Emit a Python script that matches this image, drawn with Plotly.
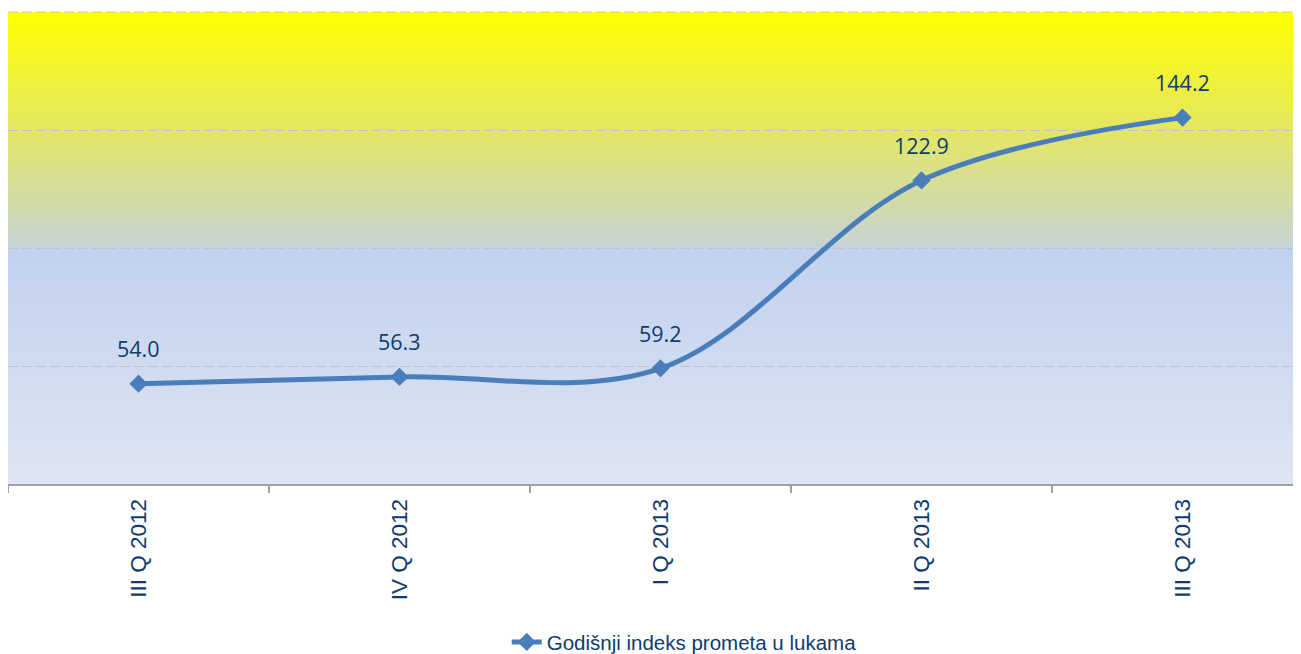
import plotly.graph_objects as go

categories = ["III Q 2012", "IV Q 2012", "I Q 2013", "II Q 2013", "III Q 2013"]
values = [54.0, 56.3, 59.2, 122.9, 144.2]
series_name = "Godišnji indeks prometa u lukama"

LINE = "#4A7EBB"
NAVY = "#0F3B6E"

def hex2rgb(h):
    h = h.lstrip("#")
    return tuple(int(h[i:i + 2], 16) for i in (0, 2, 4))

stops = [
    (0.0, "#DEE5F3"),
    (0.5, "#C1D1EE"),
    (0.503, "#C6D3D4"),
    (0.6, "#D3DBA6"),
    (0.75, "#E3E763"),
    (1.0, "#FFFF00"),
]

def color_at(t):
    for (a, ca), (b, cb) in zip(stops[:-1], stops[1:]):
        if a <= t <= b:
            f = (t - a) / (b - a) if b > a else 0
            r1, g1, b1 = hex2rgb(ca)
            r2, g2, b2 = hex2rgb(cb)
            return "rgb(%d,%d,%d)" % (round(r1 + (r2 - r1) * f), round(g1 + (g2 - g1) * f), round(b1 + (b2 - b1) * f))
    return stops[-1][1]

shapes = []
N = 160
for i in range(N):
    y0 = i / N
    y1 = (i + 1) / N
    shapes.append(dict(type="rect", xref="x domain", yref="y domain", x0=0, x1=1,
                       y0=y0, y1=min(1.0, y1 + 0.002), fillcolor=color_at((y0 + y1) / 2),
                       line=dict(width=0), layer="below"))
# dashed top border gridline
shapes.append(dict(type="line", xref="x domain", yref="y domain", x0=0, x1=1, y0=1, y1=1,
                   line=dict(color="#C4C4C4", width=1, dash="10px,4px"), layer="below"))

fig = go.Figure()
fig.add_trace(go.Scatter(
    x=categories, y=values, name=series_name, mode="lines+markers",
    line=dict(color=LINE, width=5, shape="spline", smoothing=1.0),
    marker=dict(symbol="diamond", size=14, color=LINE),
))

annotations = [dict(x=c, y=v, text="%.1f" % v, showarrow=False, yshift=35,
                    font=dict(family="Open Sans", size=21.5, color=NAVY))
               for c, v in zip(categories, values)]

fig.update_layout(
    width=1293, height=646,
    margin=dict(l=0, r=0, t=4, b=170, autoexpand=False),
    paper_bgcolor="white", plot_bgcolor="rgba(0,0,0,0)",
    shapes=shapes, annotations=annotations,
    showlegend=True,
    legend=dict(orientation="h", x=0.523, xanchor="center", y=-0.335, yanchor="middle",
                font=dict(family="Liberation Sans", size=20.5, color=NAVY),
                bgcolor="rgba(0,0,0,0)"),
    xaxis=dict(type="category", range=[-0.5, 4.454], tickson="boundaries",
               ticks="outside", ticklen=7, tickwidth=2, tickcolor="#A0A0A0",
               showline=True, linecolor="#A0A0A0", linewidth=2, showgrid=False,
               tickangle=-90, tickfont=dict(family="Liberation Sans", size=22.5, color=NAVY),
               ticklabelstandoff=4,
               fixedrange=True, automargin=False),
    yaxis=dict(range=[20, 180], tickvals=[20, 60, 100, 140, 180], showticklabels=False,
               showgrid=True, gridcolor="#C4C4C4", gridwidth=1, griddash="10px,4px",
               zeroline=False, showline=False, fixedrange=True, automargin=False),
)

fig.write_html("out.html")
